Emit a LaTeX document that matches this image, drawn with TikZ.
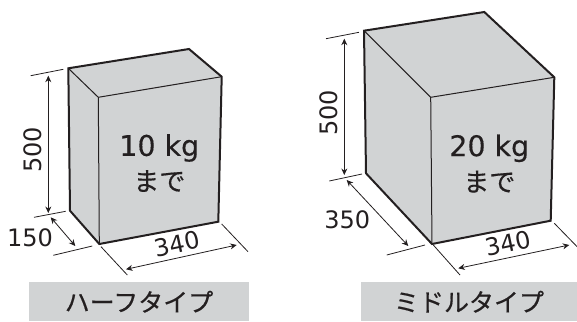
\documentclass[tikz,border=0pt]{standalone}
\usepackage{fontspec}
\setmainfont{DejaVu Sans}
\newfontfamily\digits[FakeBold=0.25]{DejaVu Sans}
\newfontfamily\cjk[FakeBold=0.5]{Noto Sans CJK JP}
\usetikzlibrary{arrows.meta}
\definecolor{boxColor}{HTML}{D1D3D4}
\definecolor{inkColor}{HTML}{231F20}
\begin{document}
\begin{tikzpicture}[%
    x=1pt,y=-1pt,>={Stealth[length=6.5pt,width=6pt]},every node/.style={text=inkColor,inner sep=0pt}]
    \tikzstyle{outline}=[draw=inkColor,line width=2pt,line join=miter,fill=boxColor]
    \tikzstyle{edge}=[draw=inkColor,line width=1pt]
    \tikzstyle{tick}=[draw=inkColor,line width=0.8pt]
    \tikzstyle{dim}=[draw=inkColor,line width=0.8pt,<->]
    \tikzstyle{dimLabel}=[font=\fontsize{24}{24}\selectfont]
    \tikzstyle{load}=[font=\digits\fontsize{28.5}{28.5}\selectfont]
    \tikzstyle{loadJp}=[font=\cjk\fontsize{26}{26}\selectfont]
    \tikzstyle{banner}=[fill=boxColor,minimum height=39pt,font=\cjk\fontsize{25}{25}\selectfont]
    \useasboundingbox (0,0) rectangle (577,321);
    % Half type corners
    \coordinate (halfA) at (68.3,68.3);
    \coordinate (halfB) at (189,49);
    \coordinate (halfC) at (221.7,76.7);
    \coordinate (halfD) at (98.3,97.3);
    \coordinate (halfE) at (99.3,244);
    \coordinate (halfF) at (218.3,221.7);
    \coordinate (halfG) at (70,210.7);
    % Half type box
    \draw [outline] (halfA) -- (halfB) -- (halfC) -- (halfF) -- (halfE) -- (halfG) -- cycle;
    \draw [edge] (halfA) -- (halfD) -- (halfC);
    \draw [edge] (halfD) -- (halfE);
    % Half type dimensions
    \coordinate (halfTickA) at (30.7,75.7);
    \coordinate (halfTickB) at (63.3,69.3);
    \coordinate (halfTickC) at (34,217.3);
    \coordinate (halfTickD) at (65.7,211.3);
    \coordinate (halfTickE) at (53.3,255.3);
    \coordinate (halfTickF) at (92.3,246);
    \coordinate (halfTickG) at (101,246.7);
    \coordinate (halfTickH) at (127.3,275);
    \coordinate (halfTickI) at (221.7,224);
    \coordinate (halfTickJ) at (248,251.7);
    \coordinate (halfHighA) at (48.3,75.7);
    \coordinate (halfHighB) at (48.3,213);
    \coordinate (halfDeepA) at (50.7,217.3);
    \coordinate (halfDeepB) at (75.3,246);
    \coordinate (halfWideA) at (126,269.3);
    \coordinate (halfWideB) at (236.7,245);
    \draw [tick] (halfTickA) -- (halfTickB);
    \draw [tick] (halfTickC) -- (halfTickD);
    \draw [tick] (halfTickE) -- (halfTickF);
    \draw [tick] (halfTickG) -- (halfTickH);
    \draw [tick] (halfTickI) -- (halfTickJ);
    \draw [dim] (halfHighA) -- (halfHighB);
    \draw [dim] (halfDeepA) -- (halfDeepB);
    \draw [dim] (halfWideA) -- (halfWideB);
    % Half type labels
    \node (halfHigh) [dimLabel,rotate=90] at (32.7,150) {500};
    \node (halfDeep) [dimLabel] at (30,237.3) {150};
    \node (halfWide) [dimLabel,rotate=12] at (177.3,244) {340};
    \node (halfLoad) [load] at (159.3,148) {10 kg};
    \node (halfUpTo) [loadJp] at (159.3,181) {まで};
    \node (halfBanner) [banner,minimum width=220pt] at (139,301.7) {ハーフタイプ};
    % Mid type corners
    \coordinate (midA) at (364,30.7);
    \coordinate (midB) at (484.3,12);
    \coordinate (midC) at (554.3,77.3);
    \coordinate (midD) at (430.7,97.3);
    \coordinate (midE) at (432,244);
    \coordinate (midF) at (550.7,220.7);
    \coordinate (midG) at (366,173.3);
    % Mid type box
    \draw [outline] (midA) -- (midB) -- (midC) -- (midF) -- (midE) -- (midG) -- cycle;
    \draw [edge] (midA) -- (midD) -- (midC);
    \draw [edge] (midD) -- (midE);
    % Mid type dimensions
    \coordinate (midTickA) at (326,38.7);
    \coordinate (midTickB) at (359,32.3);
    \coordinate (midTickC) at (329.3,181);
    \coordinate (midTickD) at (362,174);
    \coordinate (midTickE) at (386.7,255);
    \coordinate (midTickF) at (425,245);
    \coordinate (midTickG) at (433.3,245);
    \coordinate (midTickH) at (460,275);
    \coordinate (midTickI) at (554.3,223.3);
    \coordinate (midTickJ) at (581,250.7);
    \coordinate (midHighA) at (344.3,38.7);
    \coordinate (midHighB) at (344.3,175);
    \coordinate (midDeepA) at (346.7,180);
    \coordinate (midDeepB) at (408.3,246);
    \coordinate (midWideA) at (458.3,268.3);
    \coordinate (midWideB) at (569.3,245);
    \draw [tick] (midTickA) -- (midTickB);
    \draw [tick] (midTickC) -- (midTickD);
    \draw [tick] (midTickE) -- (midTickF);
    \draw [tick] (midTickG) -- (midTickH);
    \draw [tick] (midTickI) -- (midTickJ);
    \draw [dim] (midHighA) -- (midHighB);
    \draw [dim] (midDeepA) -- (midDeepB);
    \draw [dim] (midWideA) -- (midWideB);
    % Mid type labels
    \node (midHigh) [dimLabel,rotate=90] at (328.3,112.7) {500};
    \node (midDeep) [dimLabel] at (347.3,220) {350};
    \node (midWide) [dimLabel,rotate=12] at (508.3,243.5) {340};
    \node (midLoad) [load] at (489.3,148.3) {20 kg};
    \node (midUpTo) [loadJp] at (489.3,181.7) {まで};
    \node (midBanner) [banner,minimum width=216pt] at (469,301.7) {ミドルタイプ};
\end{tikzpicture}
\end{document}
